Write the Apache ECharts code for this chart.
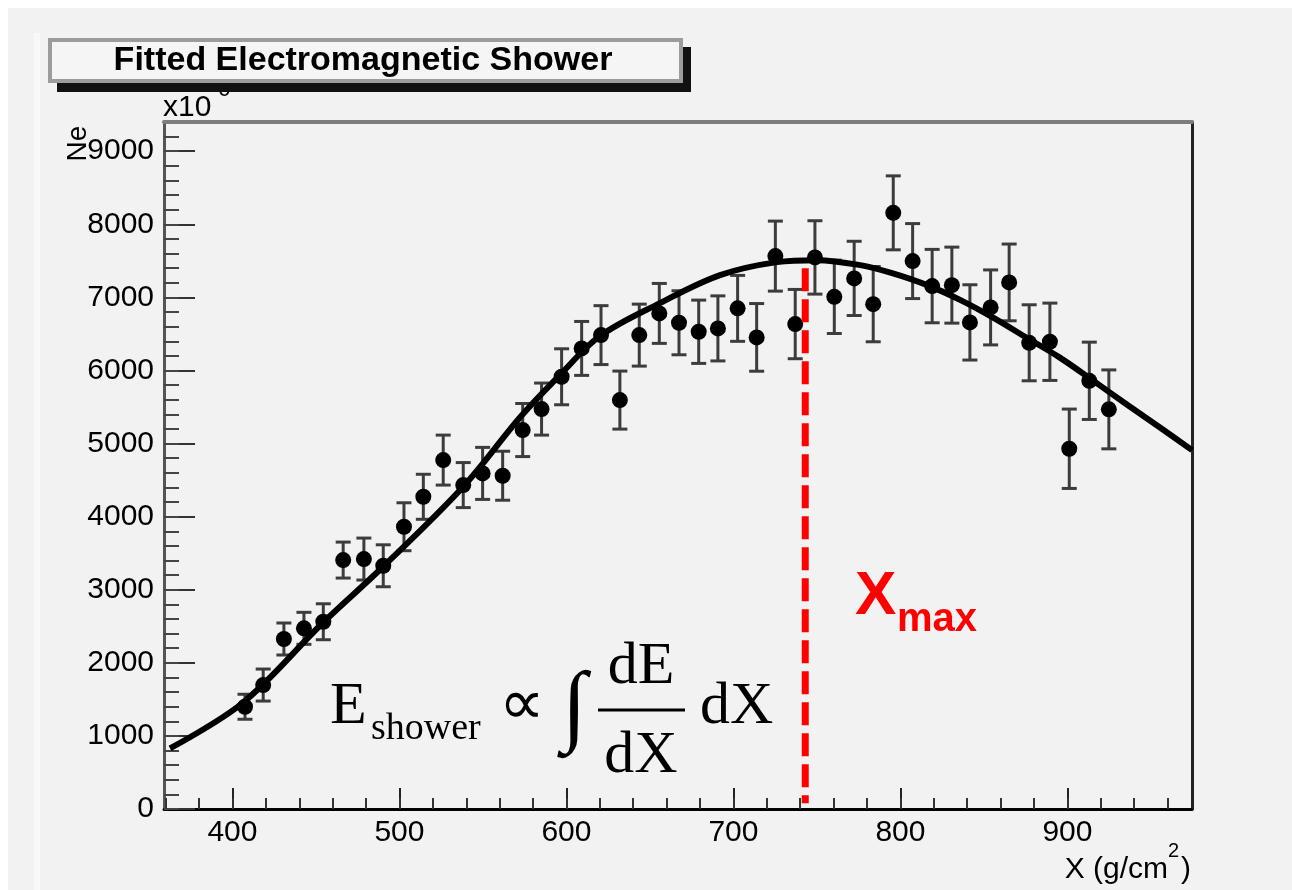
<!DOCTYPE html>
<html>
<head>
<meta charset="utf-8">
<script src="https://cdn.jsdelivr.net/npm/echarts@6/dist/echarts.min.js"></script>
<style>
  html, body { margin: 0; padding: 0; background: #f2f2f2; }
  #chart { width: 1292px; height: 890px; }
</style>
</head>
<body>
<div id="chart"></div>
<script>
// slant depth of each bin (g/cm2)
const depth = [407.5, 418.4, 430.8, 442.8, 454.4, 466.3, 478.7, 490.3, 502.7, 514.3,
  526.2, 538.2, 549.8, 561.8, 573.8, 585.1, 597.1, 609.1, 620.7, 632.0,
  643.6, 655.6, 667.4, 679.2, 690.7, 702.5, 713.9, 725.1, 737.0, 748.8,
  760.4, 772.3, 783.7, 795.7, 807.3, 819.0, 830.8, 841.6, 854.0, 865.1,
  877.1, 889.5, 901.1, 913.1, 924.8]
// number of particles (x10^6)
const ne = [1399, 1696, 2326, 2472, 2562, 3406, 3420, 3328, 3862, 4272,
  4774, 4432, 4592, 4560, 5185, 5472, 5914, 6302, 6484, 5595,
  6484, 6781, 6653, 6530, 6576, 6850, 6453, 7565, 6635, 7547,
  7008, 7260, 6908, 8157, 7497, 7155, 7168, 6658, 6863, 7205,
  6379, 6393, 4929, 5859, 5468]
const neErr = [171, 219, 219, 219, 246, 246, 287, 287, 328, 308,
  342, 308, 356, 335, 363, 356, 383, 369, 403, 397,
  424, 410, 438, 433, 445, 451, 463, 479, 474, 502,
  502, 508, 515, 506, 513, 502, 520, 515, 513, 525,
  520, 529, 543, 529, 540]

// fitted shower profile
const fitDepth = [362.6, 406, 454, 490, 538, 572.5, 596, 620, 656, 692, 726, 750,
  776, 795, 816, 836, 855, 876, 895, 915, 936, 955, 974.6]
const fitNe = [830, 1450, 2545, 3311, 4405, 5367, 5937, 6470, 6922, 7305, 7483, 7510,
  7442, 7332, 7168, 6963, 6730, 6443, 6183, 5868, 5527, 5226, 4910]

const xMaxDepth = 743
const xMaxLine = [7400, 80]

const xTicks = [400, 500, 600, 700, 800, 900]
const yTicks = [0, 1000, 2000, 3000, 4000, 5000, 6000, 7000, 8000, 9000]
const xMinor = []
for (let v = 360; v <= 960; v += 20) xMinor.push(v)
const yMinor = []
for (let v = 0; v <= 9200; v += 200) yMinor.push(v)

const X_MIN = 359, X_MAX = 974.6, Y_MIN = 0, Y_MAX = 9400

const sans = '"Liberation Sans", Arial, Helvetica, sans-serif'
const serif = '"Liberation Serif", "Times New Roman", serif'

const chart = echarts.init(document.getElementById('chart'))

const points = depth.map((d, i) => [d, ne[i]])
const bars = depth.map((d, i) => [d, ne[i], neErr[i]])
const fit = fitDepth.map((d, i) => [d, fitNe[i]])

const hidden = { axisLine: { show: false }, axisTick: { show: false }, axisLabel: { show: false }, splitLine: { show: false } }

function txt(x, y, text, font, extra) {
  return {
    type: 'text', x: x, y: y, z: 50,
    style: Object.assign({ text: text, font: font, fill: '#000', align: 'left', verticalAlign: 'middle' }, extra || {})
  }
}

const option = {
  animation: false,
  backgroundColor: '#f2f2f2',
  grid: [
    { left: 164, top: 122, width: 1028, height: 687, outerBoundsMode: 'none' },
    { left: 164, top: 122, width: 1028, height: 687, outerBoundsMode: 'none' }
  ],
  xAxis: [
    {
      type: 'value', gridIndex: 0, position: 'bottom', min: X_MIN, max: X_MAX,
      axisLine: { show: true, onZero: false, lineStyle: { color: '#000', width: 3 } },
      axisTick: { show: true, inside: true, length: 21, customValues: xTicks, lineStyle: { color: '#222', width: 2 } },
      axisLabel: { show: true, customValues: xTicks, margin: 9, fontSize: 30, fontFamily: sans, color: '#000', formatter: v => String(v) },
      splitLine: { show: false }
    },
    {
      type: 'value', gridIndex: 0, position: 'top', min: X_MIN, max: X_MAX,
      axisLine: { show: true, onZero: false, lineStyle: { color: '#7d7d7d', width: 4 } },
      axisTick: { show: false }, axisLabel: { show: false }, splitLine: { show: false }
    },
    Object.assign({
      type: 'value', gridIndex: 1, position: 'bottom', min: X_MIN, max: X_MAX
    }, hidden, {
      axisTick: { show: true, inside: true, length: 11, customValues: xMinor, lineStyle: { color: '#333', width: 2 } }
    })
  ],
  yAxis: [
    {
      type: 'value', gridIndex: 0, position: 'left', min: Y_MIN, max: Y_MAX,
      axisLine: { show: true, onZero: false, lineStyle: { color: '#555', width: 3 } },
      axisTick: { show: true, inside: true, length: 31, customValues: yTicks, lineStyle: { color: '#333', width: 2 } },
      axisLabel: { show: true, customValues: yTicks, margin: 10, fontSize: 30, fontFamily: sans, color: '#000', padding: [0, 0, 4, 0], formatter: v => String(v) },
      splitLine: { show: false }
    },
    {
      type: 'value', gridIndex: 0, position: 'right', min: Y_MIN, max: Y_MAX,
      axisLine: { show: true, onZero: false, lineStyle: { color: '#222', width: 3 } },
      axisTick: { show: false }, axisLabel: { show: false }, splitLine: { show: false }
    },
    Object.assign({
      type: 'value', gridIndex: 1, position: 'left', min: Y_MIN, max: Y_MAX
    }, hidden, {
      axisTick: { show: true, inside: true, length: 15, customValues: yMinor, lineStyle: { color: '#444', width: 2 } }
    })
  ],
  series: [
    {
      name: 'err',
      type: 'custom',
      xAxisIndex: 0, yAxisIndex: 0,
      data: bars,
      encode: { x: 0, y: 1 },
      z: 2,
      renderItem: function (params, api) {
        const x = api.value(0), y = api.value(1), e = api.value(2)
        const top = api.coord([x, y + e])
        const bot = api.coord([x, y - e])
        const w = 7.5
        const st = { stroke: '#3c3c3c', lineWidth: 3 }
        return {
          type: 'group',
          children: [
            { type: 'line', shape: { x1: top[0], y1: top[1], x2: bot[0], y2: bot[1] }, style: st },
            { type: 'line', shape: { x1: top[0] - w, y1: top[1], x2: top[0] + w, y2: top[1] }, style: st },
            { type: 'line', shape: { x1: bot[0] - w, y1: bot[1], x2: bot[0] + w, y2: bot[1] }, style: st }
          ]
        }
      }
    },
    {
      name: 'fit',
      type: 'line',
      xAxisIndex: 0, yAxisIndex: 0,
      data: fit,
      smooth: 0.35,
      symbol: 'none',
      z: 3,
      lineStyle: { color: '#000', width: 6 }
    },
    {
      name: 'Ne',
      type: 'scatter',
      xAxisIndex: 0, yAxisIndex: 0,
      data: points,
      symbol: 'circle',
      symbolSize: 16,
      z: 4,
      itemStyle: { color: '#000', opacity: 1 }
    },
    {
      name: 'Xmax',
      type: 'line',
      xAxisIndex: 0, yAxisIndex: 0,
      data: xMaxLine.map(v => [xMaxDepth, v]),
      symbol: 'none',
      z: 5,
      lineStyle: { color: '#ff0000', width: 7, type: [23, 8] }
    }
  ],
  graphic: [
    { type: 'rect', z: -5, shape: { x: 0, y: 0, width: 1292, height: 8 }, style: { fill: '#ffffff' } },
    { type: 'rect', z: -5, shape: { x: 0, y: 0, width: 8, height: 890 }, style: { fill: '#ffffff' } },
    { type: 'rect', z: -5, shape: { x: 34, y: 33, width: 6, height: 857 }, style: { fill: '#f8f8f8' } },

    txt(163, 107.6, 'x10', '30px ' + sans),
    txt(218, 90.4, '6', '22px ' + sans),

    // title pave with shadow
    { type: 'rect', z: 60, shape: { x: 57, y: 47, width: 634, height: 45 }, style: { fill: '#111' } },
    { type: 'rect', z: 61, shape: { x: 50, y: 40, width: 631, height: 41 }, style: { fill: '#f5f5f5', stroke: '#9c9c9c', lineWidth: 4 } },
    Object.assign(txt(363, 60.2, 'Fitted Electromagnetic Shower', 'bold 34px ' + sans, { align: 'center' }), { z: 62 }),

    // y axis title
    Object.assign(txt(78.5, 143.5, 'Ne', '28px ' + sans, { align: 'center' }), { rotation: Math.PI / 2 }),

    // x axis title
    txt(1168, 869.6, 'X (g/cm', '30px ' + sans, { align: 'right' }),
    txt(1168, 851, '2', '20px ' + sans),
    txt(1181, 869.6, ')', '30px ' + sans),

    // formula
    txt(330, 706.8, 'E', '60px ' + serif),
    txt(371, 729.2, 'shower', '38px ' + serif),
    txt(499, 707, '\u221D', '64px ' + serif),
    txt(574, 710, '\u222B', '90px ' + serif, { align: 'center' }),
    txt(641, 666.8, 'dE', '60px ' + serif, { align: 'center' }),
    { type: 'line', z: 50, shape: { x1: 598, y1: 710, x2: 685, y2: 710 }, style: { stroke: '#000', lineWidth: 3 } },
    txt(641, 756, 'dX', '60px ' + serif, { align: 'center' }),
    txt(700, 707, 'dX', '60px ' + serif),

    // Xmax label
    txt(855, 596.5, 'X', 'bold 62px ' + sans, { fill: '#ff0000' }),
    txt(897, 620.1, 'max', 'bold 40px ' + sans, { fill: '#ff0000' })
  ]
}

chart.setOption(option)
</script>
</body>
</html>
